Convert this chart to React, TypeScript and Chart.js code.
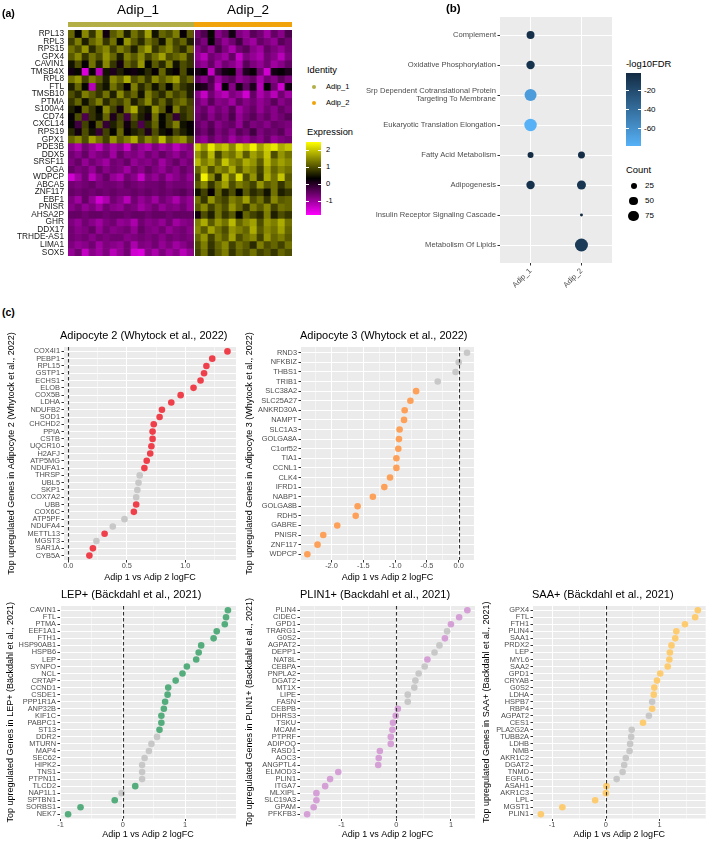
import React, { useEffect, useRef } from 'react';
import { Chart, registerables } from 'chart.js';

Chart.register(...registerables);

const FONT = "'Liberation Sans', Arial, Helvetica, sans-serif";

/* ================= (a) heatmap data ================= */
const heatGenes = ['RPL13','RPL3','RPS15','GPX4','CAVIN1','TMSB4X','RPL8','FTL','TMSB10','PTMA','S100A4','CD74','CXCL14','RPS19','GPX1','PDE3B','DDX5','SRSF11','OGA','WDPCP','ABCA5','ZNF117','EBF1','PNISR','AHSA2P','GHR','DDX17','TRHDE-AS1','LIMA1','SOX5'];
const heatGroups = ['Adip_1', 'Adip_2'];
// scaled expression, one row per gene, columns = cells of Adip_1
const heatAdip1 = [
  [1.2,0.4,1.5,0.8,1.6,0.2,1.1,1.4,0.6,1.3,0.9,1.7,0.5,1.2,1.0,1.4,0.3,1.1],
  [0.9,1.4,0.6,1.2,1.5,0.8,1.3,0.4,1.6,1.1,0.7,1.3,1.0,0.5,1.4,0.9,1.2,0.6],
  [1.3,1.0,1.6,0.7,1.2,1.5,0.9,1.4,1.1,0.6,1.3,1.7,0.8,1.2,1.5,1.0,0.7,1.3],
  [1.1,1.5,0.8,1.3,1.0,1.6,1.2,0.6,1.4,1.1,1.5,0.9,1.3,1.7,1.0,1.2,1.4,0.8],
  [0.5,1.0,0.3,1.3,0.6,1.5,0.8,0.2,1.2,0.9,1.6,0.4,1.1,0.7,1.4,0.5,1.0,0.8],
  [0.2,0.4,-1.5,0.3,-1.2,0.5,0.1,0.6,0.3,0.2,0.4,0.7,0.3,1.2,0.5,0.3,1.0,0.4],
  [1.3,1.6,0.9,1.4,1.1,0.6,1.5,1.2,1.8,1.0,1.3,0.8,1.5,1.1,1.4,1.7,0.9,1.2],
  [0.6,1.2,0.4,-1.2,0.8,0.5,1.3,0.9,0.3,1.4,0.7,1.1,0.5,1.0,0.4,1.2,0.8,0.6],
  [1.0,0.7,1.4,1.1,0.8,1.3,0.6,1.5,0.9,1.2,0.5,1.4,1.0,0.7,1.3,0.9,1.1,0.6],
  [0.8,1.2,0.5,1.0,1.4,0.7,1.1,0.9,1.3,0.6,1.0,1.5,0.8,1.2,0.7,1.1,1.3,0.9],
  [0.6,0.3,1.2,0.8,0.4,1.5,0.9,0.2,1.3,1.8,0.7,0.5,1.6,1.1,0.3,1.4,0.8,1.0],
  [0.3,1.0,-0.3,0.8,0.5,1.2,0.1,0.9,-0.2,1.1,0.6,0.2,1.3,0.4,0.9,-0.1,0.7,1.0],
  [0.4,-0.2,0.9,0.3,1.1,-0.1,0.6,1.0,0.2,0.8,-0.3,0.7,1.2,0.4,0.9,1.4,0.5,0.3],
  [0.7,0.2,1.0,0.5,-0.1,0.9,0.4,1.2,0.3,0.6,0.8,0.1,1.0,0.5,0.3,0.9,0.6,0.4],
  [1.2,1.5,1.0,1.7,1.3,0.9,1.6,1.1,1.4,1.8,1.0,1.5,1.2,1.9,1.1,1.4,1.6,1.0],
  [-0.8,-1.1,-0.6,-0.9,-1.2,-0.7,-1.0,-0.8,-1.3,-0.6,-0.9,-1.1,-0.7,-1.0,-0.8,-1.2,-0.9,-0.7],
  [-0.6,-0.8,-0.5,-0.9,-0.7,-0.6,-1.0,-0.5,-0.8,-0.7,-0.9,-0.6,-0.8,-0.5,-0.7,-0.9,-0.6,-0.8],
  [-0.7,-0.5,-0.9,-0.6,-0.8,-1.0,-0.6,-0.7,-0.5,-0.9,-0.7,-0.8,-0.6,-1.0,-0.7,-0.5,-0.8,-0.6],
  [-0.5,-0.7,-0.6,-0.9,-0.5,-0.8,-0.6,-0.7,-1.0,-0.6,-0.8,-0.5,-0.7,-0.9,-0.6,-0.8,-0.5,-0.7],
  [-1.4,-1.0,-0.6,-1.2,-0.8,-0.5,-0.9,-1.1,-0.6,-0.8,-1.3,-0.7,-0.9,-0.6,-1.0,-0.8,-0.6,-0.9],
  [-0.6,-0.7,-0.6,-0.5,-0.7,-0.6,-0.6,-0.7,-0.5,-0.6,-0.7,-0.6,-0.6,-0.5,-0.7,-0.6,-0.6,-0.7],
  [-0.5,-0.6,-0.5,-0.6,-0.5,-0.6,-0.5,-0.6,-0.6,-0.5,-0.6,-0.5,-0.6,-0.5,-0.6,-0.5,-0.4,-0.6],
  [-0.7,-1.0,-0.5,-0.9,-1.4,-1.1,-0.6,-0.8,-1.2,-0.6,-0.9,-0.7,-1.0,-0.6,-0.8,-1.1,-0.7,-0.9],
  [-0.8,-0.6,-0.9,-0.7,-1.0,-0.6,-0.8,-0.9,-0.6,-0.7,-1.0,-0.8,-0.6,-0.9,-0.7,-0.8,-0.6,-0.9],
  [-0.5,-0.5,-0.6,-0.5,-0.5,-0.6,-0.5,-0.5,-0.6,-0.5,-0.5,-0.6,-0.5,-0.5,-0.6,-0.5,-0.5,-0.5],
  [-0.7,-0.9,-0.6,-0.8,-1.0,-0.7,-0.6,-0.9,-0.8,-1.1,-0.6,-0.8,-0.7,-0.9,-0.6,-1.0,-0.8,-0.7],
  [-0.6,-0.8,-0.7,-0.5,-0.9,-0.6,-0.8,-0.7,-0.6,-0.9,-0.5,-0.7,-0.8,-0.6,-0.9,-0.7,-0.6,-0.8],
  [-0.6,-0.7,-0.6,-0.8,-0.6,-0.7,-0.6,-0.6,-0.8,-0.7,-0.6,-0.7,-0.6,-0.8,-0.6,-0.7,-0.6,-0.7],
  [-0.7,-0.9,-0.8,-0.6,-1.0,-0.7,-0.8,-0.9,-0.6,-1.1,-0.7,-0.8,-0.6,-0.9,-0.7,-1.0,-0.8,-0.6],
  [-0.9,-0.6,-1.3,-0.8,-1.0,-0.7,-1.2,-0.9,-0.6,-1.4,-1.5,-0.8,-1.1,-0.7,-1.0,-0.8,-1.2,-0.9],
];
// scaled expression, columns = cells of Adip_2
const heatAdip2 = [
  [-0.6,-0.3,0.4,-0.8,-0.5,0.2,-0.7,-0.9,-0.4,-0.6,-1.0,-0.5,-0.8,-0.3],
  [-0.4,-0.7,0.3,-0.5,-0.9,-0.6,-0.2,-0.8,-1.0,-0.5,-0.7,-0.9,-0.4,-0.6],
  [-0.8,-0.5,-0.9,-0.3,-0.7,-1.1,-0.6,-0.4,-0.8,-1.0,-0.5,-0.7,-0.9,-0.6],
  [-0.9,-1.2,-0.6,-0.8,-1.0,-0.5,-1.3,-0.7,-0.9,-1.1,-0.6,-0.8,-1.2,-0.7],
  [-0.7,-0.9,-0.5,-1.0,-0.6,-0.8,-1.1,-0.4,-0.7,-0.9,-0.6,-1.0,-0.8,-0.5],
  [0.1,0.3,-1.3,-0.2,0.2,0.4,-0.8,0.1,0.3,-0.6,-1.4,0.2,0.3,0.1],
  [-0.5,-0.8,-0.3,-1.0,-0.6,-0.4,-0.9,-0.7,-0.5,-1.1,-0.6,-0.8,-0.4,-0.7],
  [0.2,0.1,-0.4,-1.3,0.3,-0.8,0.2,-0.5,0.1,-1.2,0.3,-0.6,-1.4,0.2],
  [-0.8,-1.3,-0.6,-1.0,-1.2,-0.7,-0.9,-1.4,-0.5,-1.1,-0.8,-1.2,-0.6,-1.0],
  [-0.6,-0.9,-0.4,-0.8,-0.7,-1.0,-0.5,-0.8,-0.6,-0.9,-0.7,-0.4,-0.8,-0.6],
  [-0.7,-0.5,-0.9,-0.6,-0.8,-0.4,-1.0,-0.7,-0.5,-0.9,-0.6,-0.8,-0.5,-0.7],
  [-0.6,-0.4,-0.8,-0.5,-0.7,-0.3,-0.9,-0.6,-0.4,-0.7,-0.5,-0.8,-0.6,-0.4],
  [-0.5,-0.7,-0.4,-0.8,-0.6,-0.5,-0.9,-0.4,-0.7,-0.6,-0.8,-0.5,-0.6,-0.7],
  [-0.4,-0.6,-0.3,-0.7,-0.5,-0.8,-0.4,-0.6,-0.2,-0.7,-0.5,-0.6,-0.4,-0.8],
  [-0.7,-0.9,-0.5,-0.8,-0.6,-1.0,-0.7,-0.9,-0.6,-0.8,-0.5,-0.9,-0.7,-0.6],
  [2.1,1.6,2.3,1.8,2.0,1.5,2.2,1.9,2.4,1.7,2.1,2.3,1.8,2.0],
  [1.6,1.2,1.9,0.9,1.5,1.3,1.8,1.1,1.7,1.4,2.0,1.0,1.6,1.3],
  [1.9,1.4,1.7,1.2,2.0,1.5,1.3,1.8,1.6,1.1,1.9,1.4,1.7,1.5],
  [1.2,1.7,1.0,1.5,1.3,1.8,1.1,1.6,1.4,0.9,1.7,1.2,1.5,1.3],
  [0.9,2.4,1.5,0.7,1.9,1.2,2.2,1.0,1.6,0.8,1.8,1.3,2.0,1.1],
  [1.1,1.5,0.8,1.3,1.7,1.0,1.4,1.2,0.9,1.6,1.1,1.3,0.8,1.2],
  [0.5,0.9,0.3,1.2,0.6,1.0,0.4,1.1,0.7,0.9,0.5,1.3,0.6,0.8],
  [1.3,0.8,1.6,1.1,0.9,1.4,1.2,1.7,1.0,1.3,0.8,1.5,1.1,1.2],
  [1.1,1.5,0.9,1.3,1.0,1.6,1.2,0.8,1.4,1.1,1.5,0.9,1.3,1.2],
  [0.2,1.0,0.6,1.3,0.8,1.1,0.4,1.2,0.9,0.7,1.4,0.6,1.0,0.8],
  [1.4,1.8,1.1,1.6,1.3,1.9,1.2,1.5,1.7,1.0,1.6,1.4,1.8,1.3],
  [1.5,1.1,1.7,1.3,1.0,1.6,1.4,1.2,1.8,1.1,1.5,1.3,1.7,1.2],
  [1.2,1.6,0.9,1.4,1.1,1.7,1.0,1.3,1.5,0.9,1.6,1.2,1.4,1.1],
  [1.0,1.4,0.8,1.2,1.5,0.9,1.3,1.1,0.7,1.4,1.0,1.2,0.9,1.3],
  [0.9,1.3,0.7,1.1,1.4,0.8,1.2,1.0,1.3,0.9,1.1,0.8,1.2,1.0],
];
const exprLegendTicks = [2, 1, 0, -1];

/* ================= (b) enrichment dot plot data ================= */
const goTerms: any[] = ['Complement', 'Oxidative Phosphorylation', ['Srp Dependent Cotranslational Protein', 'Targeting To Membrane'], 'Eukaryotic Translation Elongation', 'Fatty Acid Metabolism', 'Adipogenesis', 'Insulin Receptor Signaling Cascade', 'Metabolism Of Lipids'];
const goClusters = ['Adip_1', 'Adip_2'];
const goPointTerm = [0, 1, 2, 3, 4, 4, 5, 5, 6, 7];
const goPointCluster = [0, 0, 0, 0, 0, 1, 0, 1, 1, 1];
const goPointCount = [44, 49, 100, 107, 25, 34, 49, 56, 6, 117];
const goPointLogFdr = [-4, -6, -66, -78, -2, -3, -5, -7, -1.5, -10];
const fdrLegendTicks = [-20, -40, -60];
const countLegendTicks = [25, 50, 75];

/* ================= (c) logFC dot plots data ================= */
const adipo2Genes = ['COX4I1','PEBP1','RPL15','GSTP1','ECHS1','ELOB','COX5B','LDHA','NDUFB2','SOD1','CHCHD2','PPIA','CSTB','UQCR10','H2AFJ','ATP5MG','NDUFA1','THRSP','UBL5','SKP1','COX7A2','UBB','COX6C','ATP5PF','NDUFA4','METTL13','MGST3','SAR1A','CYB5A'];
const adipo2LogFC = [1.36,1.23,1.18,1.16,1.13,1.07,0.96,0.88,0.80,0.78,0.73,0.72,0.72,0.71,0.70,0.67,0.65,0.61,0.60,0.59,0.58,0.58,0.56,0.48,0.38,0.31,0.24,0.21,0.18];
const adipo2Sig = [1,1,1,1,1,1,1,1,1,1,1,1,1,1,1,1,1,0,0,0,0,1,1,0,0,1,0,1,1];
const adipo2Ticks = [0, 0.5, 1.0];

const adipo3Genes = ['RND3','NFKBIZ','THBS1','TRIB1','SLC38A2','SLC25A27','ANKRD30A','NAMPT','SLC1A3','GOLGA8A','C1orf52','TIA1','CCNL1','CLK4','IFRD1','NABP1','GOLGA8B','RDH5','GABRE','PNISR','ZNF117','WDPCP'];
const adipo3LogFC = [0.13,0.0,-0.05,-0.33,-0.67,-0.76,-0.85,-0.86,-0.93,-0.94,-0.95,-0.98,-0.98,-1.08,-1.17,-1.35,-1.59,-1.62,-1.91,-2.13,-2.22,-2.38];
const adipo3Sig = [0,0,0,0,1,1,1,1,1,1,1,1,1,1,1,1,1,1,1,1,1,1];
const adipo3Ticks = [-2.0, -1.5, -1.0, -0.5, 0.0];

const lepGenes = ['CAVIN1','FTL','PTMA','EEF1A1','FTH1','HSP90AB1','HSPB6','LEP','SYNPO','NCL','CRTAP','CCND1','CSDE1','PPP1R1A','ANP32B','KIF1C','PABPC1','ST13','DDR2','MTURN','MAP4','SEC62','HIPK2','TNS1','PTPN11','TLCD2','NAP1L1','SPTBN1','SORBS1','NEK7'];
const lepLogFC = [1.69,1.66,1.64,1.51,1.46,1.26,1.22,1.18,1.03,0.96,0.85,0.73,0.72,0.68,0.66,0.62,0.62,0.59,0.55,0.46,0.42,0.35,0.31,0.31,0.31,0.20,-0.02,-0.13,-0.68,-0.88];
const lepSig = [1,1,1,1,1,1,1,1,1,1,1,1,1,1,1,1,1,1,0,0,0,0,0,0,0,1,0,1,1,1];
const lepTicks = [-1, 0, 1];

const plin1Genes = ['PLIN4','CIDEC','GPD1','TRARG1','G0S2','AGPAT2','DEPP1','NAT8L','CEBPA','PNPLA2','DGAT2','MT1X','LIPE','FASN','CEBPB','DHRS3','TSKU','MCAM','PTPRF','ADIPOQ','RASD1','AOC3','ANGPTL4','ELMOD3','PLIN1','ITGA7','MLXIPL','SLC19A3','GPAM','PFKFB3'];
const plin1LogFC = [1.30,1.15,1.00,0.93,0.89,0.79,0.70,0.57,0.52,0.41,0.35,0.33,0.21,0.21,0.03,-0.01,-0.06,-0.07,-0.10,-0.10,-0.30,-0.32,-0.33,-1.06,-1.21,-1.30,-1.46,-1.46,-1.51,-1.63];
const plin1Sig = [1,1,1,0,1,0,0,1,0,0,0,0,0,0,1,1,1,1,1,1,1,1,1,1,1,1,1,1,1,1];
const plin1Ticks = [-1, 0, 1];

const saaGenes = ['GPX4','FTL','FTH1','PLIN4','SAA1','PRDX2','LEP','MYL6','SAA2','GPD1','CRYAB','G0S2','LDHA','HSPB7','RBP4','AGPAT2','CES1','PLA2G2A','TUBB2A','LDHB','NMB','AKR1C2','DGAT2','TNMD','EGFL6','ASAH1','AKR1C3','LPL','MGST1','PLIN1'];
const saaLogFC = [1.71,1.66,1.47,1.31,1.29,1.22,1.19,1.18,1.15,1.01,0.95,0.90,0.89,0.86,0.86,0.80,0.69,0.48,0.47,0.45,0.44,0.37,0.34,0.31,0.20,0.01,0.0,-0.20,-0.81,-1.21];
const saaSig = [1,1,1,1,1,1,1,1,1,1,1,1,1,0,1,0,1,0,0,0,0,0,0,0,0,1,1,1,1,1];
const saaTicks = [-1, 0, 1];

/* ================= styles / helpers ================= */
const GROUP_COLORS = ['#B3AE45', '#F0A30A'];
const GREY = '#C8C8C8';
const PANEL_BG = '#EBEBEB';
const EXPR_LO = -1.8, EXPR_MID = 0.35, EXPR_HI = 2.5;
const FDR_LO = -78, FDR_HI = -1.1;
const FDR_LIGHT = [0x56, 0xb1, 0xf7], FDR_DARK = [0x13, 0x2b, 0x43];

const mix = (a: number[], b: number[], t: number) => {
  const c = a.map((v, i) => Math.round(v + (b[i] - v) * Math.max(0, Math.min(1, t))));
  return `rgb(${c[0]},${c[1]},${c[2]})`;
};
const exprColor = (v: number) =>
  v <= EXPR_MID
    ? mix([255, 0, 255], [0, 0, 0], (v - EXPR_LO) / (EXPR_MID - EXPR_LO))
    : mix([0, 0, 0], [255, 255, 0], (v - EXPR_MID) / (EXPR_HI - EXPR_MID));
const fdrColor = (v: number) => mix(FDR_LIGHT, FDR_DARK, (v - FDR_LO) / (FDR_HI - FDR_LO));
const sizeOf = (count: number) => 0.6 * Math.sqrt(count);

const bgPlugin = {
  id: 'panelBg',
  beforeDraw(chart: any) {
    const { ctx, chartArea: a } = chart;
    ctx.save();
    ctx.fillStyle = PANEL_BG;
    ctx.fillRect(a.left, a.top, a.right - a.left, a.bottom - a.top);
    ctx.restore();
  },
};

const vlinePlugin = {
  id: 'vline0',
  afterDatasetsDraw(chart: any) {
    const { ctx, chartArea: a, scales } = chart;
    const px = Math.round(scales.x.getPixelForValue(0)) + 0.5;
    ctx.save();
    ctx.strokeStyle = '#333333';
    ctx.lineWidth = 1.1;
    ctx.setLineDash([3.5, 2.5]);
    ctx.beginPath();
    ctx.moveTo(px, a.top);
    ctx.lineTo(px, a.bottom);
    ctx.stroke();
    ctx.restore();
  },
};

const makeTitlePlugin = (text: string, x: number, y: number) => ({
  id: 'panelTitle',
  afterDraw(chart: any) {
    const { ctx } = chart;
    ctx.save();
    ctx.font = `11px ${FONT}`;
    ctx.fillStyle = '#000';
    ctx.textAlign = 'left';
    ctx.textBaseline = 'middle';
    ctx.fillText(text, x, y);
    ctx.restore();
  },
});

function ChartCanvas({ left, top, width, height, make }: any) {
  const ref = useRef<HTMLCanvasElement>(null);
  useEffect(() => {
    const chart = new Chart(ref.current as HTMLCanvasElement, make());
    return () => chart.destroy();
  }, []);
  return (
    <canvas
      ref={ref}
      width={width}
      height={height}
      style={{ position: 'absolute', left, top, width, height, display: 'block' }}
    />
  );
}

function T({ x, y, s, children, bold = false, align = 'left', color = '#000' }: any) {
  const tx = align === 'center' ? '-50%' : align === 'right' ? '-100%' : '0';
  return (
    <div
      style={{
        position: 'absolute', left: x, top: y, transform: `translate(${tx}, -50%)`,
        fontSize: s, fontWeight: bold ? 700 : 400, lineHeight: 1, whiteSpace: 'nowrap',
        color, fontFamily: FONT,
      }}
    >
      {children}
    </div>
  );
}

/* ================= (a) heatmap config ================= */
function heatmapConfig(): any {
  const n1 = heatAdip1[0].length;
  const nCols = n1 + heatAdip2[0].length;
  const cols = Array.from({ length: nCols }, (_, i) => String(i));
  const groupPlugin = {
    id: 'heatGroups',
    afterDatasetsDraw(chart: any) {
      const { ctx, chartArea: a, scales } = chart;
      const x = scales.x;
      const half = (x.getPixelForValue(1) - x.getPixelForValue(0)) / 2;
      const l = x.getPixelForValue(0) - half;
      const m = x.getPixelForValue(n1) - half;
      const r = x.getPixelForValue(nCols - 1) + half;
      ctx.save();
      ctx.fillStyle = GROUP_COLORS[0];
      ctx.fillRect(l, a.top - 8, m - l, 5);
      ctx.fillStyle = GROUP_COLORS[1];
      ctx.fillRect(m, a.top - 8, r - m, 5);
      ctx.strokeStyle = '#FFFFFF';
      ctx.lineWidth = 1;
      ctx.beginPath();
      ctx.moveTo(Math.round(m) + 0.5, a.top);
      ctx.lineTo(Math.round(m) + 0.5, a.bottom);
      ctx.stroke();
      ctx.restore();
    },
  };
  return {
    type: 'bar',
    data: {
      labels: cols,
      datasets: heatGenes.map((g, gi) => ({
        label: g,
        data: cols.map(() => 1),
        backgroundColor: [...heatAdip1[gi], ...heatAdip2[gi]].map(exprColor),
        borderWidth: 0,
        barPercentage: 1,
        categoryPercentage: 1,
      })),
    },
    options: {
      responsive: false, animation: false, devicePixelRatio: 1, events: [],
      layout: { padding: { top: 30, right: 8, bottom: 9, left: 0 } },
      plugins: { legend: { display: false }, tooltip: { enabled: false } },
      scales: {
        x: { type: 'category', stacked: true, display: false },
        y: {
          type: 'linear', stacked: true, reverse: true, min: 0, max: heatGenes.length,
          afterBuildTicks: (s: any) => { s.ticks = heatGenes.map((_, i) => ({ value: i + 0.5 })); },
          afterFit: (s: any) => { s.width = 68; },
          ticks: {
            autoSkip: false, padding: 4, color: '#1A1A1A',
            font: { family: FONT, size: 8.3, lineHeight: 1 },
            callback: (v: number) => heatGenes[Math.floor(v)],
          },
          grid: { display: false, drawTicks: false },
          border: { display: false },
        },
      },
    },
    plugins: [groupPlugin],
  };
}

/* ================= (b) dot plot config ================= */
function dotplotConfig(): any {
  const tickFont = { family: FONT, size: 7.6, lineHeight: 1.1 };
  return {
    type: 'bubble',
    data: {
      datasets: [{
        data: goPointTerm.map((t, i) => ({ x: goPointCluster[i], y: t, r: sizeOf(goPointCount[i]) })),
        backgroundColor: goPointLogFdr.map(fdrColor),
        borderWidth: 0,
        hoverRadius: 0,
      }],
    },
    options: {
      responsive: false, animation: false, devicePixelRatio: 1, events: [],
      layout: { padding: { top: 17, right: 8, left: 0, bottom: 0 } },
      plugins: { legend: { display: false }, tooltip: { enabled: false } },
      scales: {
        x: {
          type: 'linear', min: -0.6, max: goClusters.length - 0.4,
          afterBuildTicks: (s: any) => { s.ticks = goClusters.map((_, i) => ({ value: i })); },
          afterFit: (s: any) => { s.height = 37; },
          ticks: {
            autoSkip: false, minRotation: 45, maxRotation: 45, padding: 1, color: '#4D4D4D',
            font: { family: FONT, size: 7.6 }, callback: (v: number) => goClusters[v],
          },
          grid: { color: '#FFFFFF', lineWidth: 1, tickLength: 2.5, tickWidth: 1, tickColor: '#333333' },
          border: { display: false },
        },
        y: {
          type: 'linear', reverse: true, min: -0.6, max: goTerms.length - 0.4,
          afterBuildTicks: (s: any) => { s.ticks = goTerms.map((_, i) => ({ value: i })); },
          afterFit: (s: any) => { s.width = 140; },
          ticks: { autoSkip: false, padding: 1.5, color: '#4D4D4D', font: tickFont, callback: (v: number) => goTerms[v] },
          grid: { color: '#FFFFFF', lineWidth: 1, tickLength: 2.5, tickWidth: 1, tickColor: '#333333' },
          border: { display: false },
        },
      },
    },
    plugins: [bgPlugin],
  };
}

/* ================= (c) panel config ================= */
function panelConfig(p: any): any {
  const n = p.genes.length;
  const isMajor = (v: number) => p.majors.some((m: number) => Math.abs(m - v) < 1e-9);
  const tickFont = { family: FONT, size: 7.4, lineHeight: 1 };
  return {
    type: 'scatter',
    data: {
      datasets: [{
        data: p.logfc.map((v: number, i: number) => ({ x: v, y: i })),
        pointRadius: 3.3,
        pointHoverRadius: 3.3,
        pointBorderWidth: 0,
        borderWidth: 0,
        pointBackgroundColor: p.sig.map((s: number) => (s ? p.color : GREY)),
      }],
    },
    options: {
      responsive: false, animation: false, devicePixelRatio: 1, events: [],
      layout: { padding: { top: p.padTop, right: p.padRight, left: 0, bottom: 0 } },
      plugins: { legend: { display: false }, tooltip: { enabled: false }, title: { display: false } },
      scales: {
        x: {
          type: 'linear', min: p.xMin, max: p.xMax,
          afterBuildTicks: (s: any) => {
            s.ticks = [...p.majors, ...p.minors].sort((a: number, b: number) => a - b).map((v: number) => ({ value: v }));
          },
          afterFit: (s: any) => { s.height = p.axisH; },
          ticks: {
            autoSkip: false, maxRotation: 0, minRotation: 0, padding: 0, color: '#4D4D4D', font: tickFont,
            callback: (v: number) => (isMajor(v) ? v.toFixed(p.decimals) : ''),
          },
          grid: {
            color: '#FFFFFF',
            lineWidth: (c: any) => (c.tick && isMajor(c.tick.value) ? 1 : 0.5),
            tickLength: 2.5, tickWidth: 1,
            tickColor: (c: any) => (c.tick && isMajor(c.tick.value) ? '#333333' : 'rgba(0,0,0,0)'),
          },
          border: { display: false },
          title: {
            display: true, text: 'Adip 1 vs Adip 2 logFC', color: '#000',
            font: { family: FONT, size: 9, lineHeight: 1.2 }, padding: { top: 0, bottom: 2.3 },
          },
        },
        y: {
          type: 'linear', reverse: true, min: -0.6, max: n - 0.4,
          afterBuildTicks: (s: any) => { s.ticks = p.genes.map((_: string, i: number) => ({ value: i })); },
          afterFit: (s: any) => { s.width = p.axisW; },
          ticks: { autoSkip: false, padding: 1.5, color: '#4D4D4D', font: tickFont, callback: (v: number) => p.genes[v] },
          grid: { color: '#FFFFFF', lineWidth: 1, tickLength: 2.5, tickWidth: 1, tickColor: '#333333' },
          border: { display: false },
          title: {
            display: true, text: p.yTitle, color: '#000',
            font: { family: FONT, size: 9, lineHeight: 1.2 }, padding: { top: p.yTitlePad, bottom: 0 },
          },
        },
      },
    },
    plugins: [bgPlugin, vlinePlugin, makeTitlePlugin(p.title, p.titleX, p.titleY)],
  };
}

const minorsOf = (ticks: number[]) => {
  const step = ticks[1] - ticks[0];
  return [ticks[0] - step / 2, ...ticks.map((t) => t + step / 2)];
};

const panels = [
  {
    left: 0, top: 325, width: 240, height: 260, axisW: 64, padTop: 22, padRight: 4, axisH: 25,
    genes: adipo2Genes, logfc: adipo2LogFC, sig: adipo2Sig, color: '#EF3F4B',
    xMin: -0.037, xMax: 1.433, majors: adipo2Ticks, minors: minorsOf(adipo2Ticks), decimals: 1,
    title: 'Adipocyte 2 (Whytock et al., 2022)', titleX: 60, titleY: 11,
    yTitle: 'Top upregulated Genes in Adipocyte 2 (Whytock et al., 2022)', yTitlePad: 6.6,
  },
  {
    left: 240, top: 325, width: 240, height: 260, axisW: 61, padTop: 22, padRight: 6, axisH: 25,
    genes: adipo3Genes, logfc: adipo3LogFC, sig: adipo3Sig, color: '#FDA15A',
    xMin: -2.48, xMax: 0.24, majors: adipo3Ticks, minors: minorsOf(adipo3Ticks), decimals: 1,
    title: 'Adipocyte 3 (Whytock et al., 2022)', titleX: 60, titleY: 11,
    yTitle: 'Top upregulated Genes in Adipocyte 3 (Whytock et al., 2022)', yTitlePad: 4.6,
  },
  {
    left: 0, top: 585, width: 240, height: 257, axisW: 60, padTop: 21, padRight: 4, axisH: 23.5,
    genes: lepGenes, logfc: lepLogFC, sig: lepSig, color: '#55AD7D',
    xMin: -1.01, xMax: 1.82, majors: lepTicks, minors: minorsOf(lepTicks), decimals: 0,
    title: 'LEP+ (Bäckdahl et al., 2021)', titleX: 61, titleY: 10,
    yTitle: 'Top upregulated Genes in LEP+ (Bäckdahl et al., 2021)', yTitlePad: 5.3,
  },
  {
    left: 240, top: 585, width: 240, height: 257, axisW: 60, padTop: 21, padRight: 5, axisH: 23.5,
    genes: plin1Genes, logfc: plin1LogFC, sig: plin1Sig, color: '#D5A0D5',
    xMin: -1.76, xMax: 1.44, majors: plin1Ticks, minors: minorsOf(plin1Ticks), decimals: 0,
    title: 'PLIN1+ (Backdahl et al., 2021)', titleX: 60, titleY: 10,
    yTitle: 'Top upregulated Genes in PLIN1+ (Backdahl et al., 2021)', yTitlePad: 4.6,
  },
  {
    left: 480, top: 585, width: 229, height: 257, axisW: 53, padTop: 21, padRight: 1, axisH: 23.5,
    genes: saaGenes, logfc: saaLogFC, sig: saaSig, color: '#FECC70',
    xMin: -1.356, xMax: 1.856, majors: saaTicks, minors: minorsOf(saaTicks), decimals: 0,
    title: 'SAA+ (Bäckdahl et al., 2021)', titleX: 52, titleY: 10,
    yTitle: 'Top upregulated Genes in SAA+ (Backdahl et al., 2021)', yTitlePad: 1.3,
  },
];

/* ================= App ================= */
export default function App() {
  const exprY = (v: number) => 215 - ((v - EXPR_LO) / (EXPR_HI - EXPR_LO)) * 73;
  const fdrY = (v: number) => 73 + ((FDR_HI - v) / (FDR_HI - FDR_LO)) * 73;
  const midPct = ((EXPR_MID - EXPR_LO) / (EXPR_HI - EXPR_LO)) * 100;
  return (
    <div style={{ position: 'absolute', left: 0, top: 0, width: 709, height: 842, background: '#fff', overflow: 'hidden', fontFamily: FONT }}>
      {/* (a) */}
      <ChartCanvas left={0} top={0} width={300} height={265} make={heatmapConfig} />
      <T x={2} y={13} s={10.5} bold>(a)</T>
      <T x={138} y={10} s={13.5} align="center">{heatGroups[0]}</T>
      <T x={248} y={10} s={13.5} align="center">{heatGroups[1]}</T>
      <T x={307} y={71} s={9.3}>Identity</T>
      {heatGroups.map((g, i) => (
        <React.Fragment key={g}>
          <div style={{ position: 'absolute', left: 314 - 2.3, top: 87 + i * 16 - 2.3, width: 4.6, height: 4.6, borderRadius: '50%', background: GROUP_COLORS[i] }} />
          <T x={326} y={87 + i * 16} s={7.5}>{g}</T>
        </React.Fragment>
      ))}
      <T x={307} y={133} s={9.3}>Expression</T>
      <div style={{ position: 'absolute', left: 306, top: 142, width: 15, height: 73, background: `linear-gradient(to top, rgb(255,0,255) 0%, #000 ${midPct}%, rgb(255,255,0) 100%)` }} />
      {exprLegendTicks.map((v) => (
        <React.Fragment key={v}>
          <div style={{ position: 'absolute', left: 306, top: exprY(v) - 0.5, width: 3, height: 1, background: '#fff' }} />
          <div style={{ position: 'absolute', left: 318, top: exprY(v) - 0.5, width: 3, height: 1, background: '#fff' }} />
          <T x={326} y={exprY(v)} s={7.5}>{String(v)}</T>
        </React.Fragment>
      ))}

      {/* (b) */}
      <ChartCanvas left={360} top={0} width={260} height={300} make={dotplotConfig} />
      <T x={446} y={8.5} s={11.5} bold>(b)</T>
      <T x={626} y={64} s={9.4}>-log10FDR</T>
      <div style={{ position: 'absolute', left: 626, top: 73, width: 14.5, height: 73, background: 'linear-gradient(to bottom, #132B43, #56B1F7)' }} />
      {fdrLegendTicks.map((v) => (
        <React.Fragment key={v}>
          <div style={{ position: 'absolute', left: 626, top: fdrY(v) - 0.5, width: 3, height: 1, background: '#fff' }} />
          <div style={{ position: 'absolute', left: 637.5, top: fdrY(v) - 0.5, width: 3, height: 1, background: '#fff' }} />
          <T x={644} y={fdrY(v)} s={8}>{String(v)}</T>
        </React.Fragment>
      ))}
      <T x={626} y={170} s={9.4}>Count</T>
      {countLegendTicks.map((c, i) => {
        const r = sizeOf(c);
        return (
          <React.Fragment key={c}>
            <div style={{ position: 'absolute', left: 633.5 - r, top: 186 + i * 15 - r, width: 2 * r, height: 2 * r, borderRadius: '50%', background: '#000' }} />
            <T x={645} y={186 + i * 15} s={8}>{String(c)}</T>
          </React.Fragment>
        );
      })}

      {/* (c) */}
      <T x={2} y={312} s={10.5} bold>(c)</T>
      {panels.map((p, i) => (
        <ChartCanvas key={i} left={p.left} top={p.top} width={p.width} height={p.height} make={() => panelConfig(p)} />
      ))}
    </div>
  );
}
